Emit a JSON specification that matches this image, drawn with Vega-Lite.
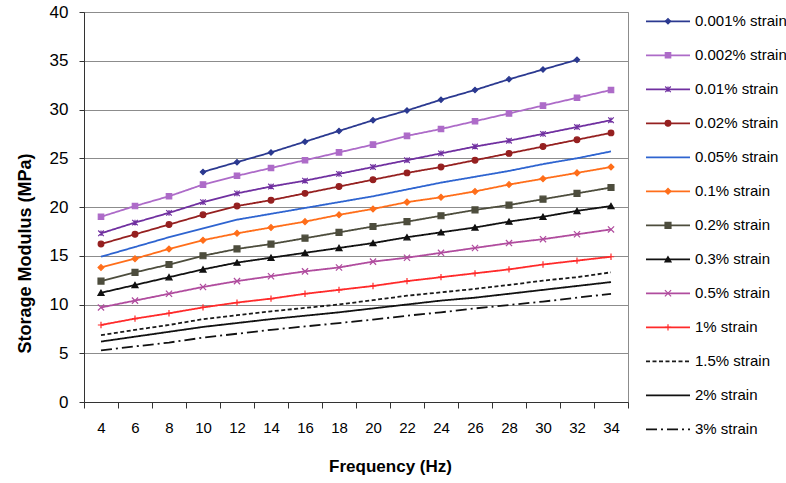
{
  "$schema": "https://vega.github.io/schema/vega-lite/v6.json",
  "background": "white",
  "padding": {"left": 15, "top": 2, "right": 0, "bottom": 0},
  "config": {"font": "Liberation Sans", "view": {"stroke": null}},
  "spacing": 16,
  "resolve": {"scale": {"x": "independent", "y": "independent"}},
  "datasets": {
    "main": [
      {"s":"0.001% strain","f":10,"v":23.6},{"s":"0.001% strain","f":12,"v":24.6},{"s":"0.001% strain","f":14,"v":25.6},{"s":"0.001% strain","f":16,"v":26.7},{"s":"0.001% strain","f":18,"v":27.8},{"s":"0.001% strain","f":20,"v":28.9},{"s":"0.001% strain","f":22,"v":29.9},{"s":"0.001% strain","f":24,"v":31.0},{"s":"0.001% strain","f":26,"v":32.0},{"s":"0.001% strain","f":28,"v":33.1},{"s":"0.001% strain","f":30,"v":34.1},{"s":"0.001% strain","f":32,"v":35.1},
      {"s":"0.002% strain","f":4,"v":19.0},{"s":"0.002% strain","f":6,"v":20.1},{"s":"0.002% strain","f":8,"v":21.1},{"s":"0.002% strain","f":10,"v":22.3},{"s":"0.002% strain","f":12,"v":23.2},{"s":"0.002% strain","f":14,"v":24.0},{"s":"0.002% strain","f":16,"v":24.8},{"s":"0.002% strain","f":18,"v":25.6},{"s":"0.002% strain","f":20,"v":26.4},{"s":"0.002% strain","f":22,"v":27.3},{"s":"0.002% strain","f":24,"v":28.0},{"s":"0.002% strain","f":26,"v":28.8},{"s":"0.002% strain","f":28,"v":29.6},{"s":"0.002% strain","f":30,"v":30.4},{"s":"0.002% strain","f":32,"v":31.2},{"s":"0.002% strain","f":34,"v":32.0},
      {"s":"0.01% strain","f":4,"v":17.3},{"s":"0.01% strain","f":6,"v":18.4},{"s":"0.01% strain","f":8,"v":19.4},{"s":"0.01% strain","f":10,"v":20.5},{"s":"0.01% strain","f":12,"v":21.4},{"s":"0.01% strain","f":14,"v":22.1},{"s":"0.01% strain","f":16,"v":22.7},{"s":"0.01% strain","f":18,"v":23.4},{"s":"0.01% strain","f":20,"v":24.1},{"s":"0.01% strain","f":22,"v":24.8},{"s":"0.01% strain","f":24,"v":25.5},{"s":"0.01% strain","f":26,"v":26.2},{"s":"0.01% strain","f":28,"v":26.8},{"s":"0.01% strain","f":30,"v":27.5},{"s":"0.01% strain","f":32,"v":28.2},{"s":"0.01% strain","f":34,"v":28.9},
      {"s":"0.02% strain","f":4,"v":16.2},{"s":"0.02% strain","f":6,"v":17.2},{"s":"0.02% strain","f":8,"v":18.2},{"s":"0.02% strain","f":10,"v":19.2},{"s":"0.02% strain","f":12,"v":20.1},{"s":"0.02% strain","f":14,"v":20.7},{"s":"0.02% strain","f":16,"v":21.4},{"s":"0.02% strain","f":18,"v":22.1},{"s":"0.02% strain","f":20,"v":22.8},{"s":"0.02% strain","f":22,"v":23.5},{"s":"0.02% strain","f":24,"v":24.1},{"s":"0.02% strain","f":26,"v":24.8},{"s":"0.02% strain","f":28,"v":25.5},{"s":"0.02% strain","f":30,"v":26.2},{"s":"0.02% strain","f":32,"v":26.9},{"s":"0.02% strain","f":34,"v":27.6},
      {"s":"0.05% strain","f":4,"v":14.9},{"s":"0.05% strain","f":6,"v":15.9},{"s":"0.05% strain","f":8,"v":16.9},{"s":"0.05% strain","f":10,"v":17.8},{"s":"0.05% strain","f":12,"v":18.7},{"s":"0.05% strain","f":14,"v":19.3},{"s":"0.05% strain","f":16,"v":19.9},{"s":"0.05% strain","f":18,"v":20.5},{"s":"0.05% strain","f":20,"v":21.1},{"s":"0.05% strain","f":22,"v":21.8},{"s":"0.05% strain","f":24,"v":22.5},{"s":"0.05% strain","f":26,"v":23.1},{"s":"0.05% strain","f":28,"v":23.7},{"s":"0.05% strain","f":30,"v":24.4},{"s":"0.05% strain","f":32,"v":25.0},{"s":"0.05% strain","f":34,"v":25.7},
      {"s":"0.1% strain","f":4,"v":13.8},{"s":"0.1% strain","f":6,"v":14.7},{"s":"0.1% strain","f":8,"v":15.7},{"s":"0.1% strain","f":10,"v":16.6},{"s":"0.1% strain","f":12,"v":17.3},{"s":"0.1% strain","f":14,"v":17.9},{"s":"0.1% strain","f":16,"v":18.5},{"s":"0.1% strain","f":18,"v":19.2},{"s":"0.1% strain","f":20,"v":19.8},{"s":"0.1% strain","f":22,"v":20.5},{"s":"0.1% strain","f":24,"v":21.0},{"s":"0.1% strain","f":26,"v":21.6},{"s":"0.1% strain","f":28,"v":22.3},{"s":"0.1% strain","f":30,"v":22.9},{"s":"0.1% strain","f":32,"v":23.5},{"s":"0.1% strain","f":34,"v":24.1},
      {"s":"0.2% strain","f":4,"v":12.4},{"s":"0.2% strain","f":6,"v":13.3},{"s":"0.2% strain","f":8,"v":14.1},{"s":"0.2% strain","f":10,"v":15.0},{"s":"0.2% strain","f":12,"v":15.7},{"s":"0.2% strain","f":14,"v":16.2},{"s":"0.2% strain","f":16,"v":16.8},{"s":"0.2% strain","f":18,"v":17.4},{"s":"0.2% strain","f":20,"v":18.0},{"s":"0.2% strain","f":22,"v":18.5},{"s":"0.2% strain","f":24,"v":19.1},{"s":"0.2% strain","f":26,"v":19.7},{"s":"0.2% strain","f":28,"v":20.2},{"s":"0.2% strain","f":30,"v":20.8},{"s":"0.2% strain","f":32,"v":21.4},{"s":"0.2% strain","f":34,"v":22.0},
      {"s":"0.3% strain","f":4,"v":11.2},{"s":"0.3% strain","f":6,"v":12.0},{"s":"0.3% strain","f":8,"v":12.8},{"s":"0.3% strain","f":10,"v":13.6},{"s":"0.3% strain","f":12,"v":14.3},{"s":"0.3% strain","f":14,"v":14.8},{"s":"0.3% strain","f":16,"v":15.3},{"s":"0.3% strain","f":18,"v":15.8},{"s":"0.3% strain","f":20,"v":16.3},{"s":"0.3% strain","f":22,"v":16.9},{"s":"0.3% strain","f":24,"v":17.4},{"s":"0.3% strain","f":26,"v":17.9},{"s":"0.3% strain","f":28,"v":18.5},{"s":"0.3% strain","f":30,"v":19.0},{"s":"0.3% strain","f":32,"v":19.6},{"s":"0.3% strain","f":34,"v":20.1},
      {"s":"0.5% strain","f":4,"v":9.7},{"s":"0.5% strain","f":6,"v":10.4},{"s":"0.5% strain","f":8,"v":11.1},{"s":"0.5% strain","f":10,"v":11.8},{"s":"0.5% strain","f":12,"v":12.4},{"s":"0.5% strain","f":14,"v":12.9},{"s":"0.5% strain","f":16,"v":13.4},{"s":"0.5% strain","f":18,"v":13.8},{"s":"0.5% strain","f":20,"v":14.4},{"s":"0.5% strain","f":22,"v":14.8},{"s":"0.5% strain","f":24,"v":15.3},{"s":"0.5% strain","f":26,"v":15.8},{"s":"0.5% strain","f":28,"v":16.3},{"s":"0.5% strain","f":30,"v":16.7},{"s":"0.5% strain","f":32,"v":17.2},{"s":"0.5% strain","f":34,"v":17.7},
      {"s":"1% strain","f":4,"v":7.9},{"s":"1% strain","f":6,"v":8.55},{"s":"1% strain","f":8,"v":9.1},{"s":"1% strain","f":10,"v":9.7},{"s":"1% strain","f":12,"v":10.2},{"s":"1% strain","f":14,"v":10.6},{"s":"1% strain","f":16,"v":11.1},{"s":"1% strain","f":18,"v":11.5},{"s":"1% strain","f":20,"v":11.9},{"s":"1% strain","f":22,"v":12.4},{"s":"1% strain","f":24,"v":12.8},{"s":"1% strain","f":26,"v":13.2},{"s":"1% strain","f":28,"v":13.6},{"s":"1% strain","f":30,"v":14.1},{"s":"1% strain","f":32,"v":14.5},{"s":"1% strain","f":34,"v":14.9},
      {"s":"1.5% strain","f":4,"v":6.85},{"s":"1.5% strain","f":6,"v":7.4},{"s":"1.5% strain","f":8,"v":7.9},{"s":"1.5% strain","f":10,"v":8.5},{"s":"1.5% strain","f":12,"v":8.9},{"s":"1.5% strain","f":14,"v":9.3},{"s":"1.5% strain","f":16,"v":9.65},{"s":"1.5% strain","f":18,"v":10.0},{"s":"1.5% strain","f":20,"v":10.45},{"s":"1.5% strain","f":22,"v":10.9},{"s":"1.5% strain","f":24,"v":11.25},{"s":"1.5% strain","f":26,"v":11.6},{"s":"1.5% strain","f":28,"v":12.0},{"s":"1.5% strain","f":30,"v":12.45},{"s":"1.5% strain","f":32,"v":12.8},{"s":"1.5% strain","f":34,"v":13.3},
      {"s":"2% strain","f":4,"v":6.2},{"s":"2% strain","f":6,"v":6.7},{"s":"2% strain","f":8,"v":7.2},{"s":"2% strain","f":10,"v":7.7},{"s":"2% strain","f":12,"v":8.1},{"s":"2% strain","f":14,"v":8.5},{"s":"2% strain","f":16,"v":8.85},{"s":"2% strain","f":18,"v":9.2},{"s":"2% strain","f":20,"v":9.6},{"s":"2% strain","f":22,"v":10.0},{"s":"2% strain","f":24,"v":10.4},{"s":"2% strain","f":26,"v":10.7},{"s":"2% strain","f":28,"v":11.1},{"s":"2% strain","f":30,"v":11.5},{"s":"2% strain","f":32,"v":11.9},{"s":"2% strain","f":34,"v":12.3},
      {"s":"3% strain","f":4,"v":5.3},{"s":"3% strain","f":6,"v":5.7},{"s":"3% strain","f":8,"v":6.1},{"s":"3% strain","f":10,"v":6.6},{"s":"3% strain","f":12,"v":7.0},{"s":"3% strain","f":14,"v":7.4},{"s":"3% strain","f":16,"v":7.75},{"s":"3% strain","f":18,"v":8.1},{"s":"3% strain","f":20,"v":8.45},{"s":"3% strain","f":22,"v":8.85},{"s":"3% strain","f":24,"v":9.2},{"s":"3% strain","f":26,"v":9.6},{"s":"3% strain","f":28,"v":9.95},{"s":"3% strain","f":30,"v":10.3},{"s":"3% strain","f":32,"v":10.7},{"s":"3% strain","f":34,"v":11.1}
    ]
  },
  "hconcat": [
    {
      "width": 544,
      "height": 390,
      "data": {"name": "main"},
      "view": {"stroke": "#8c8c8c", "strokeWidth": 1},
      "encoding": {
        "x": {"field": "f", "type": "ordinal",
          "scale": {"type": "band", "paddingInner": 0, "paddingOuter": 0},
          "axis": {"title": "Frequency (Hz)", "labelAngle": 0, "tickBand": "extent", "tickSize": 6, "labelFontSize": 15, "labelPadding": 12, "labelColor": "#000", "titleFontSize": 17, "titleFontWeight": "bold", "titleColor": "#000", "titlePadding": 23, "titleX": 306, "domainColor": "#333", "tickColor": "#333", "grid": false}},
        "y": {"field": "v", "type": "quantitative",
          "scale": {"domain": [0, 40], "nice": false},
          "axis": {"title": "Storage Modulus (MPa)", "values": [0, 5, 10, 15, 20, 25, 30, 35, 40], "grid": true, "gridColor": "#8c8c8c", "gridWidth": 1.2, "tickSize": 5, "labelFontSize": 17, "labelPadding": 11, "labelColor": "#000", "titleFontSize": 18, "titleFontWeight": "bold", "titleColor": "#000", "titlePadding": 15, "titleY": 241, "domainColor": "#333", "tickColor": "#333"}}
      },
      "layer": [
        {
          "mark": {"type": "line", "strokeWidth": 1.8},
          "encoding": {
            "color": {"field": "s", "type": "nominal", "legend": null,
              "scale": {"domain": ["0.001% strain","0.002% strain","0.01% strain","0.02% strain","0.05% strain","0.1% strain","0.2% strain","0.3% strain","0.5% strain","1% strain","1.5% strain","2% strain","3% strain"],
                "range": ["#2B3990","#AD6BC8","#7030A0","#952020","#2E64D0","#FF6E1A","#4D4D3D","#111111","#B04C9E","#FF2A2A","#1a1a1a","#111111","#111111"]}},
            "strokeDash": {"field": "s", "type": "nominal", "legend": null,
              "scale": {"domain": ["0.001% strain","0.002% strain","0.01% strain","0.02% strain","0.05% strain","0.1% strain","0.2% strain","0.3% strain","0.5% strain","1% strain","1.5% strain","2% strain","3% strain"],
                "range": [[1,0],[1,0],[1,0],[1,0],[1,0],[1,0],[1,0],[1,0],[1,0],[1,0],[4,2.5],[1,0],[11,4,2,4]]}}
          }
        },
        {
          "transform": [{"filter": {"field": "s", "oneOf": ["0.001% strain","0.002% strain","0.01% strain","0.02% strain","0.1% strain","0.2% strain","0.3% strain","0.5% strain","1% strain"]}}],
          "mark": {"type": "point", "filled": true, "opacity": 1, "strokeWidth": 1.2},
          "encoding": {
            "color": {"field": "s", "type": "nominal", "legend": null},
            "stroke": {"field": "s", "type": "nominal", "legend": null,
              "scale": {"domain": ["0.001% strain","0.002% strain","0.01% strain","0.02% strain","0.05% strain","0.1% strain","0.2% strain","0.3% strain","0.5% strain","1% strain","1.5% strain","2% strain","3% strain"],
                "range": ["#2B3990","#AD6BC8","#7030A0","#952020","#2E64D0","#FF6E1A","#4D4D3D","#111111","#B04C9E","#FF2A2A","#1a1a1a","#111111","#111111"]}},
            "shape": {"field": "s", "type": "nominal", "legend": null,
              "scale": {"domain": ["0.001% strain","0.002% strain","0.01% strain","0.02% strain","0.1% strain","0.2% strain","0.3% strain","0.5% strain","1% strain"],
                "range": ["diamond","square","M-1,-1L1,1M-1,1L1,-1M0,-1L0,1","circle","diamond","square","triangle-up","M-1,-1L1,1M-1,1L1,-1","M0,-1L0,1M-1,0L1,0"]}},
            "size": {"field": "s", "type": "nominal", "legend": null,
              "scale": {"domain": ["0.001% strain","0.002% strain","0.01% strain","0.02% strain","0.1% strain","0.2% strain","0.3% strain","0.5% strain","1% strain"],
                "range": [28, 40, 45, 32, 22, 38, 32, 40, 40]}}
          }
        }
      ]
    },
    {
      "width": 143,
      "height": 426.6,
      "data": {"name": "main"},
      "transform": [{"aggregate": [{"op": "count", "as": "n"}], "groupby": ["s"]}],
      "view": {"stroke": null},
      "encoding": {
        "y": {"field": "s", "type": "nominal", "axis": null,
          "scale": {"type": "point", "padding": 0.2735, "domain": ["0.001% strain","0.002% strain","0.01% strain","0.02% strain","0.05% strain","0.1% strain","0.2% strain","0.3% strain","0.5% strain","1% strain","1.5% strain","2% strain","3% strain"]}}
      },
      "layer": [
        {
          "mark": {"type": "rule", "strokeWidth": 1.8},
          "encoding": {
            "x": {"datum": 0, "type": "quantitative", "axis": null, "scale": {"domain": [0, 3.25], "nice": false, "zero": false}},
            "x2": {"datum": 1},
            "color": {"field": "s", "type": "nominal", "legend": null},
            "strokeDash": {"field": "s", "type": "nominal", "legend": null}
          }
        },
        {
          "transform": [{"filter": {"field": "s", "oneOf": ["0.001% strain","0.002% strain","0.01% strain","0.02% strain","0.1% strain","0.2% strain","0.3% strain","0.5% strain","1% strain"]}}],
          "mark": {"type": "point", "filled": true, "opacity": 1, "strokeWidth": 1.2},
          "encoding": {
            "x": {"datum": 0.5, "type": "quantitative"},
            "color": {"field": "s", "type": "nominal", "legend": null},
            "stroke": {"field": "s", "type": "nominal", "legend": null},
            "shape": {"field": "s", "type": "nominal", "legend": null},
            "size": {"field": "s", "type": "nominal", "legend": null}
          }
        },
        {
          "mark": {"type": "text", "align": "left", "baseline": "middle", "dx": 5, "fontSize": 15, "color": "#000"},
          "encoding": {
            "x": {"datum": 1, "type": "quantitative"},
            "text": {"field": "s", "type": "nominal"}
          }
        }
      ]
    }
  ]
}
